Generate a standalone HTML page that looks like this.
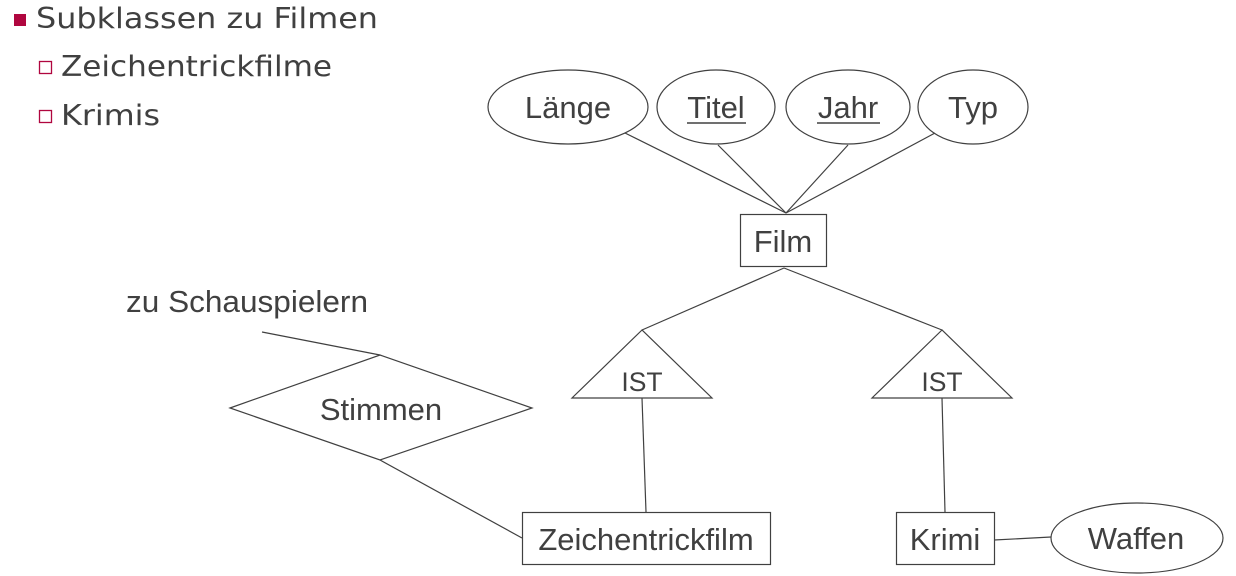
<!DOCTYPE html>
<html><head><meta charset="utf-8"><style>body{margin:0;background:#fff}svg{display:block}</style></head>
<body>
<svg width="1236" height="576" xmlns="http://www.w3.org/2000/svg">
<g font-family="DejaVu Sans, sans-serif" fill="#404040" font-size="28.5">
<rect x="14" y="14" width="12" height="12" fill="#b0063f"/>
<text x="36" y="28" textLength="342" lengthAdjust="spacingAndGlyphs">Subklassen zu Filmen</text>
<rect x="39.5" y="61.5" width="12" height="12" fill="none" stroke="#b0063f" stroke-width="1.3"/>
<text x="61" y="76" textLength="271" lengthAdjust="spacingAndGlyphs">Zeichentrickfilme</text>
<rect x="39.5" y="110.5" width="12" height="12" fill="none" stroke="#b0063f" stroke-width="1.3"/>
<text x="61" y="125" textLength="99" lengthAdjust="spacingAndGlyphs">Krimis</text>
</g>
<g stroke="#404040" stroke-width="1.2" fill="none">
<ellipse cx="568" cy="107" rx="80" ry="37"/>
<ellipse cx="716" cy="107" rx="59" ry="37"/>
<ellipse cx="848" cy="107" rx="62" ry="37"/>
<ellipse cx="973" cy="107" rx="55" ry="37"/>
<line x1="625" y1="133" x2="786" y2="213"/>
<line x1="718" y1="145" x2="786" y2="213"/>
<line x1="848" y1="145" x2="786" y2="213"/>
<line x1="935" y1="133" x2="786" y2="213"/>
<rect x="740.5" y="214.5" width="86" height="52"/>
<line x1="784" y1="268" x2="642" y2="330"/>
<line x1="784" y1="268" x2="942" y2="330"/>
<polygon points="642,330 572,398 712,398"/>
<polygon points="942,330 872,398 1012,398"/>
<line x1="642" y1="398" x2="646" y2="512"/>
<line x1="942" y1="398" x2="945" y2="512"/>
<rect x="522.5" y="512.5" width="248" height="52"/>
<rect x="896.5" y="512.5" width="98" height="52"/>
<ellipse cx="1137" cy="538" rx="86" ry="35"/>
<line x1="994" y1="540" x2="1051" y2="537"/>
<polygon points="230,408 380,355 532,408 380,460"/>
<line x1="380" y1="460" x2="522" y2="538"/>
<line x1="262" y1="332" x2="380" y2="355"/>
</g>
<g font-family="Liberation Sans, Arial, sans-serif" fill="#404040" font-size="31" text-anchor="middle">
<text x="568" y="118">Länge</text>
<text x="716" y="118">Titel</text>
<text x="848" y="118">Jahr</text>
<text x="973" y="118">Typ</text>
<text x="783" y="252">Film</text>
<text x="642" y="391" font-size="26.5">IST</text>
<text x="942" y="391" font-size="26.5">IST</text>
<text x="646" y="550">Zeichentrickfilm</text>
<text x="945" y="550">Krimi</text>
<text x="1136" y="549">Waffen</text>
<text x="381" y="420">Stimmen</text>
<text x="247" y="312" font-size="31" textLength="242" lengthAdjust="spacingAndGlyphs">zu Schauspielern</text>
</g>
<g stroke="#404040" stroke-width="1.6">
<line x1="687" y1="123" x2="746" y2="123"/>
<line x1="817" y1="123" x2="880" y2="123"/>
</g>
</svg>
</body></html>
